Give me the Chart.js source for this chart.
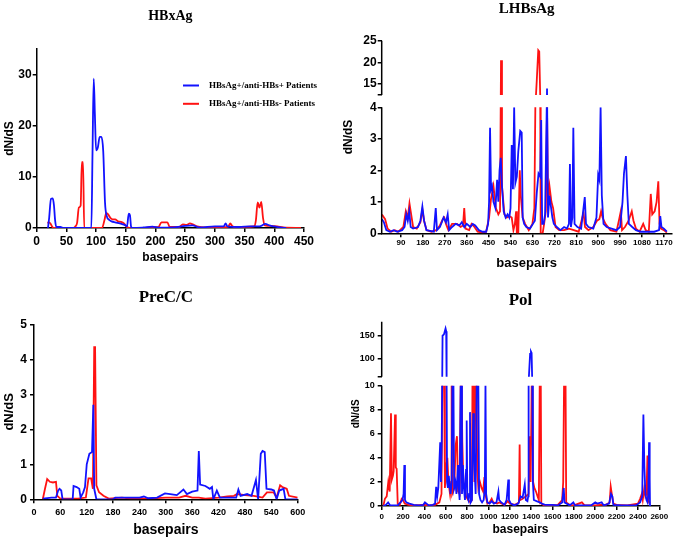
<!DOCTYPE html>
<html>
<head>
<meta charset="utf-8">
<script src="https://cdn.jsdelivr.net/npm/chart.js@4.4.1/dist/chart.umd.min.js"></script>
<style>
  html, body { margin: 0; padding: 0; background: #fff; }
  #wrap { position: relative; width: 675px; height: 540px; overflow: hidden; }
  #wrap canvas { position: absolute; left: 0; top: 0; }
</style>
</head>
<body>
<div id="wrap">
  <canvas id="hbx" width="675" height="540"></canvas>
  <canvas id="lhbs" width="675" height="540"></canvas>
  <canvas id="prec" width="675" height="540"></canvas>
  <canvas id="pol" width="675" height="540"></canvas>
</div>
<script>
// ---- data: [basepair, dN/dS] ----
const seriesLabels = ['HBsAg+/anti-HBs+ Patients', 'HBsAg+/anti-HBs- Patients'];

const hbxTicksX = [0, 50, 100, 150, 200, 250, 300, 350, 400, 450];
const hbxTicksY = [0, 10, 20, 30];
const hbxBlue = [[19,0],[21,2],[24,5.7],[27,5.8],[29,4.5],[31,1.5],[33,0.2],[40,0.2],[45,0],[92,0],[94,15],[96,29.2],[98,22],
  [100,15.2],[103,15.8],[106,17.8],[109,17.8],[112,15],[115,5],[118,2.3],[122,1.6],[126,1.3],[132,1.1],[140,0.9],[148,0.6],
  [152,0.3],[155,2.8],[157,2.5],[159,0.2],[162,0],[180,0.1],[195,0.25],[205,0.05],[230,0.1],[250,0.4],[262,0.5],[275,0.1],
  [300,0.3],[315,0.3],[318,0.9],[321,0.3],[340,0.2],[360,0.3],[375,0.3],[385,0.8],[392,0.5],[400,0.3],[410,0.1],[420,0]];
const hbxRed = [[18,1.0],[21,1.1],[24,0.7],[27,0.1],[30,0],[62,0],[65,0.3],[68,1.0],[71,4.0],[74,4.4],[76,12.9],[78,12.9],[80,0],
  [110,0],[114,1.5],[117,2.9],[120,2.7],[124,2.0],[128,1.7],[132,1.7],[137,1.3],[142,1.2],[147,0.9],[152,0.2],[156,0],[180,0],
  [190,0.15],[205,0.2],[210,1.1],[220,1.1],[224,0.2],[240,0.2],[246,0.7],[252,0.6],[258,0.9],[263,0.7],[270,0.3],[285,0.1],
  [300,0.1],[322,0.2],[326,0.9],[329,0.4],[335,0.1],[350,0.2],[366,0.3],[369,1.5],[372,5.0],[375,4.0],[378,5.1],[381,2.0],
  [384,0.5],[395,0.4],[405,0.3],[415,0.1],[445,0]];

const lhbTicksX = [90, 180, 270, 360, 450, 540, 630, 720, 810, 900, 990, 1080, 1170];
const lhbTicksY = [0, 1, 2, 3, 4, 12.5, 15, 20, 25];
const lhbBreak = [4, 12.5];
const lhbBlue = [[12,0.45],[20,0.35],[30,0.1],[45,0.05],[60,0.1],[75,0.05],[95,0.1],[105,0.2],[112,0.6],[118,0.4],[124,0.7],
  [130,0.2],[140,0.15],[160,0.2],[170,0.4],[178,0.85],[185,0.4],[195,0.1],[225,0.05],[233,0.8],[238,0.1],[250,0.2],[258,0.35],
  [265,0.5],[275,0.35],[282,0.6],[288,0.1],[300,0.2],[315,0.3],[330,0.25],[340,0.35],[350,0.2],[360,0.3],[375,0.2],[385,0.3],
  [395,0.25],[410,0.1],[425,0.05],[440,0.05],[448,0.3],[452,1.0],[456,3.35],[460,1.4],[464,1.5],[470,1.0],[478,0.8],[485,1.7],
  [490,1.0],[495,2.0],[500,2.4],[505,1.5],[512,0.7],[520,0.5],[528,0.6],[535,0.5],[540,0.8],[545,2.8],[550,1.4],[555,4.0],
  [560,1.6],[566,1.8],[572,2.6],[580,3.25],[586,3.2],[590,0.5],[596,0.3],[605,0.2],[620,0.15],[632,0.3],[640,0.4],[648,1.3],
  [655,1.9],[662,1.8],[666,3.6],[670,0.3],[676,0.3],[682,0.6],[690,14],[694,0.5],[700,1.2],[705,0.9],[712,0.5],[718,0.3],
  [730,0.2],[745,0.1],[760,0.2],[772,0.15],[780,0.3],[784,2.2],[788,0.2],[794,0.5],[798,3.35],[803,0.3],[815,0.2],[830,0.15],
  [845,1.15],[850,0.3],[860,0.2],[880,0.15],[893,0.5],[900,1.85],[905,1.7],[910,4.0],[915,1.2],[922,0.3],[935,0.2],[955,0.15],
  [975,0.1],[990,0.2],[1000,1.0],[1006,1.9],[1014,2.45],[1020,1.2],[1026,0.3],[1040,0.2],[1055,0.1],[1075,0.05],[1100,0.05],
  [1130,0.05],[1150,0.1],[1155,0.55],[1160,0.2],[1170,0.15],[1182,0.05]];
const lhbRed = [[12,0.6],[25,0.45],[35,0.15],[50,0.05],[65,0.1],[80,0.05],[100,0.2],[110,0.7],[118,0.5],[125,0.95],[132,0.6],
  [140,0.2],[155,0.15],[170,0.35],[178,0.75],[185,0.4],[195,0.1],[215,0.05],[235,0.1],[250,0.25],[262,0.45],[268,0.5],[275,0.3],
  [285,0.1],[300,0.3],[320,0.3],[335,0.2],[345,0.25],[350,0.8],[355,0.15],[370,0.1],[380,0.3],[392,0.2],[405,0.05],[425,0.02],
  [440,0.05],[452,0.5],[460,1.1],[470,1.5],[480,0.8],[490,0.6],[497,0.7],[501,20.5],[505,1.5],[515,0.6],[525,0.5],[535,0.55],
  [545,0.5],[552,0.1],[558,0.3],[563,0.7],[566,0],[572,0],[578,2.0],[582,1.2],[590,0.5],[600,0.3],[615,0.1],[630,0.3],[638,0.8],
  [642,4.5],[648,16],[654,22.8],[658,22.5],[662,12],[664,0],[672,0],[678,0.3],[685,0.7],[690,4],[694,1.0],[700,1.5],[708,1.0],
  [715,0.8],[725,0.2],[740,0.1],[760,0.1],[780,0.15],[800,0.1],[820,0.05],[835,0.5],[840,0.65],[846,0.2],[860,0.1],[880,0.2],
  [895,0.4],[905,0.45],[912,0.7],[918,0.5],[930,0.3],[950,0.1],[975,0.05],[985,0.4],[993,0.7],[998,0.1],[1010,0.2],[1025,0.4],
  [1038,0.7],[1045,0.4],[1055,0.15],[1070,0.05],[1085,0.3],[1095,0.1],[1108,0.05],[1116,1.25],[1122,0.6],[1132,0.7],[1140,1.0],
  [1147,1.65],[1152,0.3],[1158,0.15],[1170,0.1],[1182,0.02]];

const precTicksX = [0, 60, 120, 180, 240, 300, 360, 420, 480, 540, 600];
const precTicksY = [0, 1, 2, 3, 4, 5];
const precBlue = [[20,0.02],[40,0.05],[50,0.05],[55,0.25],[58,0.3],[62,0.25],[65,0],[88,0],[90,0.38],[97,0.35],[103,0.3],
  [106,0.05],[112,0.2],[116,0.35],[120,1.0],[126,1.3],[132,1.35],[135,2.7],[137,0.3],[142,0],[180,0],[185,0.05],[240,0.05],
  [250,0.08],[260,0.03],[280,0.05],[298,0.17],[310,0.15],[325,0.12],[340,0.28],[348,0.15],[360,0.22],[372,0.25],[375,1.38],
  [378,0.42],[390,0.38],[400,0.3],[405,0.35],[408,0],[416,0.25],[423,0.05],[440,0.05],[460,0.05],[465,0.28],[470,0.1],
  [485,0.15],[495,0.1],[505,0.55],[510,0],[516,1.3],[520,1.38],[525,1.35],[529,0.3],[540,0.28],[546,0.25],[552,0],[558,0.25],
  [568,0.3],[572,0],[600,0]];
const precRed = [[20,0],[25,0.3],[30,0.58],[36,0.5],[43,0.48],[50,0.5],[53,0.1],[60,0.02],[80,0.02],[100,0.02],[118,0.05],
  [124,0.6],[130,0.6],[134,0.3],[137,4.35],[139,4.35],[142,0.4],[148,0.2],[158,0.1],[170,0.02],[200,0.05],[220,0.02],[260,0.02],
  [300,0.05],[330,0.05],[345,0.1],[360,0.05],[375,0.05],[390,0.02],[420,0.05],[440,0.08],[455,0.1],[462,0.15],[480,0.12],
  [500,0.1],[520,0.05],[530,0.2],[545,0.2],[552,0.05],[560,0.4],[565,0.35],[575,0.3],[580,0.1],[600,0.05]];

const polTicksX = [0, 200, 400, 600, 800, 1000, 1200, 1400, 1600, 1800, 2000, 2200, 2400, 2600];
const polTicksY = [0, 2, 4, 6, 8, 10, 59.5, 100, 150];
const polBreak = [10, 59.5];
const polBlue = [[15,0],[40,0.1],[60,0.3],[80,0.05],[150,0.05],[195,0.5],[205,1.0],[212,3.4],[218,0.5],[230,0.3],[260,0.2],
  [300,0.1],[350,0.05],[390,0.1],[405,0.3],[420,0.2],[440,0.05],[480,0.1],[500,0.2],[510,1.6],[520,0.8],[530,1.5],[548,5.3],
  [555,2.0],[562,5.2],[570,150],[583,153],[598,166],[604,160],[608,30],[612,2.0],[620,1.5],[628,2.5],[636,1.8],[645,1.0],
  [655,2.0],[662,30],[672,30],[678,1.5],[690,2.0],[700,1.0],[715,3.4],[722,1.5],[730,0.5],[740,30],[746,30],[752,1.0],
  [760,3.4],[770,1.5],[780,0.5],[790,3.0],[796,7.1],[802,0.8],[812,0.5],[820,1.0],[827,7.8],[833,0.3],[845,0.5],[858,7.7],
  [864,5.1],[870,3.0],[880,1.0],[890,30],[898,30],[905,30],[912,1.0],[925,0.5],[940,0.3],[955,0.5],[966,1.5],[972,30],
  [978,1.0],[990,0.3],[1010,0.2],[1030,0.4],[1050,0.2],[1075,0.3],[1093,1.2],[1100,0.5],[1120,0.3],[1150,0.1],[1170,0.5],
  [1186,2.2],[1192,0.5],[1210,0.2],[1240,0.05],[1280,0.2],[1300,0.8],[1320,0.7],[1340,1.8],[1350,0.5],[1365,0.4],[1372,0.8],
  [1376,30],[1390,110],[1398,115],[1404,112],[1410,30],[1416,2.0],[1425,0.5],[1450,0.4],[1480,0.3],[1500,0.2],[1530,0.1],
  [1600,0.1],[1650,0.05],[1690,0.3],[1705,1.5],[1712,0.3],[1760,0.05],[1795,0.3],[1810,0.05],[1900,0.05],[1960,0.05],
  [2000,0.3],[2020,0.2],[2060,0.3],[2080,0.05],[2130,0.2],[2148,1.0],[2160,0.8],[2170,0.1],[2250,0.05],[2300,0.05],
  [2380,0.05],[2420,0.3],[2440,0.8],[2451,7.6],[2460,3.3],[2470,1.0],[2480,0.5],[2490,0.3],[2497,1.0],[2504,5.3],[2510,2.3],
  [2513,0]];
const polRed = [[15,0],[30,0.6],[47,0.8],[62,2.0],[75,1.2],[87,7.7],[95,2.2],[105,2.5],[112,2.9],[125,7.6],[132,3.2],[140,3.1],
  [150,0.2],[170,0.1],[187,0.6],[200,0.5],[215,0.2],[250,0.1],[300,0.05],[400,0.1],[450,0.05],[500,0.1],[540,0.3],[560,1.0],
  [568,30],[585,30],[592,1.5],[605,3.3],[615,4.0],[625,2.0],[640,1.0],[650,2.0],[655,30],[660,1.0],[680,1.5],[692,5.0],
  [705,5.8],[715,1.2],[730,1.0],[740,30],[748,30],[755,5.3],[765,2.0],[780,1.5],[790,0.8],[810,0.5],[830,0.3],[845,0.5],
  [850,30],[862,30],[868,2.0],[878,30],[888,30],[895,3.0],[905,1.5],[920,2.0],[935,1.5],[950,1.2],[962,2.4],[970,1.0],
  [990,0.2],[1010,0.3],[1030,0.6],[1045,0.3],[1080,0.2],[1100,0.3],[1150,0.1],[1180,0.4],[1200,0.2],[1250,0.1],[1285,0.3],
  [1292,5.1],[1297,0.5],[1320,0.6],[1350,0.8],[1375,1.0],[1388,5.8],[1395,2.0],[1405,30],[1412,30],[1418,2.0],[1430,1.5],
  [1445,1.2],[1460,0.8],[1472,0.5],[1480,30],[1490,30],[1495,0.2],[1520,0.05],[1580,0.05],[1650,0.1],[1690,0.5],[1700,2.0],
  [1708,30],[1722,30],[1728,0.3],[1760,0.1],[1800,0.05],[1875,0.3],[1900,0.05],[2000,0.05],[2050,0.1],[2100,0.1],[2135,0.3],
  [2145,1.6],[2155,1.0],[2170,0.2],[2200,0.1],[2300,0.05],[2400,0.2],[2420,0.6],[2436,1.0],[2445,0.5],[2460,1.5],[2470,0.8],
  [2480,1.0],[2489,4.2],[2495,0.5],[2510,0.2]];

// ---- styling ----
const SANS = '"Liberation Sans", Arial, sans-serif';
const SERIF = '"Liberation Serif", "Times New Roman", serif';
const BLUE = '#1212ff';
const RED = '#ff1212';
Chart.defaults.color = '#000';
Chart.defaults.font.family = SANS;

// linear scale that maps values piecewise (used for the broken y axes)
class BrokenLinear extends Chart.LinearScale {
  getPixelForValue(value) {
    const k = this.knots;
    if (!k) return super.getPixelForValue(value);
    let i = 1;
    while (i < k.length - 1 && value > k[i][0]) i++;
    const [v0, f0] = k[i - 1], [v1, f1] = k[i];
    const f = f0 + (value - v0) / (v1 - v0) * (f1 - f0);
    return this.bottom - f * (this.bottom - this.top);
  }
  getValueForPixel(pixel) {
    const k = this.knots;
    if (!k) return super.getValueForPixel(pixel);
    const f = (this.bottom - pixel) / (this.bottom - this.top);
    let i = 1;
    while (i < k.length - 1 && f > k[i][1]) i++;
    const [v0, f0] = k[i - 1], [v1, f1] = k[i];
    return v0 + (f - f0) / (f1 - f0) * (v1 - v0);
  }
}
BrokenLinear.id = 'brokenLinear';
BrokenLinear.defaults = Chart.LinearScale.defaults;
Chart.register(BrokenLinear);

// clip lines to the two bands of a broken axis, then draw the axis in two pieces
const brokenAxis = {
  id: 'brokenAxis',
  beforeDatasetsDraw(chart, args, o) {
    const y = chart.scales.y, a = chart.chartArea, ctx = chart.ctx;
    const lo = y.getPixelForValue(o.low), hi = y.getPixelForValue(o.high);
    ctx.save();
    ctx.beginPath();
    ctx.rect(a.left, lo, a.right - a.left, a.bottom - lo + 3);
    ctx.rect(a.left, a.top - 3, a.right - a.left, hi - a.top + 3);
    ctx.clip();
  },
  afterDatasetsDraw(chart, args, o) {
    const y = chart.scales.y, a = chart.chartArea, ctx = chart.ctx;
    ctx.restore();
    const lo = y.getPixelForValue(o.low), hi = y.getPixelForValue(o.high);
    ctx.save();
    ctx.strokeStyle = '#000';
    ctx.lineWidth = 1.5;
    ctx.beginPath();
    ctx.moveTo(a.left, a.bottom);
    ctx.lineTo(a.left, lo);
    ctx.moveTo(a.left, hi);
    ctx.lineTo(a.left, a.top);
    ctx.stroke();
    ctx.restore();
  }
};

// legend drawn inside the HBxAg plot
const insideLegend = {
  id: 'insideLegend',
  afterDraw(chart, args, o) {
    const ctx = chart.ctx;
    ctx.save();
    ctx.font = 'bold ' + o.size + 'px ' + SERIF;
    ctx.textBaseline = 'middle';
    chart.data.datasets.forEach((ds, i) => {
      const y = o.y + i * o.step;
      ctx.strokeStyle = ds.borderColor;
      ctx.lineWidth = 2;
      ctx.beginPath();
      ctx.moveTo(o.x, y);
      ctx.lineTo(o.x + o.len, y);
      ctx.stroke();
      ctx.fillStyle = '#000';
      ctx.fillText(ds.label, o.textX, y);
    });
    ctx.restore();
  }
};

const toXY = pts => pts.map(p => ({ x: p[0], y: p[1] }));

function drawPanel(canvasId, p) {
  const a = p.area;
  const padLeft = p.yTitleX - 0.6 * p.yTitleSize;
  const yWidth = a.left - padLeft;
  const xBottom = p.xTitleY + 0.6 * p.xTitleSize;
  const xHeight = xBottom - a.bottom;
  const padTop = p.titleY - 0.6 * p.titleSize;
  const titleGap = a.top - padTop - 1.2 * p.titleSize;
  const tickGrid = { drawOnChartArea: false, drawTicks: true, tickLength: 4, color: '#000', lineWidth: 1.5 };

  const ds = (label, pts, color, order) => ({
    label, data: toXY(pts), borderColor: color, backgroundColor: color,
    borderWidth: 1.8, pointRadius: 0, fill: false, order,
    tension: p.smooth ? 0.4 : 0, cubicInterpolationMode: p.smooth ? 'monotone' : 'default'
  });

  return new Chart(document.getElementById(canvasId), {
    type: 'line',
    data: {
      datasets: [
        ds(seriesLabels[0], p.blue, BLUE, 0),
        ds(seriesLabels[1], p.red, RED, 1)
      ]
    },
    options: {
      responsive: false,
      animation: false,
      events: [],
      layout: { padding: { left: padLeft, right: 675 - a.right, top: padTop, bottom: 540 - xBottom } },
      plugins: {
        legend: { display: false },
        tooltip: { enabled: false },
        title: {
          display: true, text: p.title, fullSize: false, color: '#000',
          font: { family: SERIF, size: p.titleSize, weight: 'bold' },
          padding: { top: 0, bottom: titleGap }
        },
        brokenAxis: p.brk ? { low: p.brk[0], high: p.brk[1] } : {},
        insideLegend: p.legend || {}
      },
      scales: {
        x: {
          type: 'linear', min: p.xMin, max: p.xMax,
          afterBuildTicks: s => { s.ticks = p.ticksX.map(v => ({ value: v })); },
          afterFit: s => { s.height = xHeight; },
          grid: tickGrid,
          border: { display: true, color: '#000', width: 1.5 },
          ticks: { autoSkip: false, maxRotation: 0, minRotation: 0, padding: p.xTickPad,
                   font: { size: p.xTickSize, weight: 'bold' }, callback: v => String(v) },
          title: { display: true, text: 'basepairs', padding: { top: 0, bottom: 0 },
                   font: { size: p.xTitleSize, weight: 'bold' } }
        },
        y: {
          type: p.knots ? 'brokenLinear' : 'linear', min: 0, max: p.yMax,
          afterDataLimits: s => { s.knots = p.knots || null; },
          afterBuildTicks: s => { s.ticks = p.ticksY.map(v => ({ value: v })); },
          afterFit: s => { s.width = yWidth; },
          grid: tickGrid,
          border: { display: !p.knots, color: '#000', width: 1.5 },
          ticks: { autoSkip: false, padding: p.yTickPad, font: { size: p.yTickSize, weight: 'bold' },
                   callback: v => (p.brk && v === p.brk[1]) ? '' : String(v) },
          title: { display: true, text: 'dN/dS', padding: { top: 0, bottom: 0 },
                   font: { size: p.yTitleSize, weight: 'bold' } }
        }
      }
    },
    plugins: [p.brk ? brokenAxis : null, p.legend ? insideLegend : null].filter(Boolean)
  });
}

drawPanel('hbx', {
  title: 'HBxAg', blue: hbxBlue, red: hbxRed, smooth: true,
  area: { left: 36.7, top: 49, right: 304, bottom: 228 },
  xMin: 0, xMax: 450, yMax: 35, ticksX: hbxTicksX, ticksY: hbxTicksY,
  titleY: 16, titleSize: 14, yTitleX: 10, yTitleSize: 12, xTitleY: 258, xTitleSize: 12,
  yTickSize: 12, yTickPad: 1, xTickSize: 12, xTickPad: 2.5,
  legend: { x: 183, y: 85.5, step: 18.3, len: 16, textX: 209, size: 9 }
});

drawPanel('lhbs', {
  title: 'LHBsAg', blue: lhbBlue, red: lhbRed,
  area: { left: 381.7, top: 40.7, right: 671.7, bottom: 233.3 },
  xMin: 11, xMax: 1202, yMax: 25, ticksX: lhbTicksX, ticksY: lhbTicksY,
  brk: lhbBreak, knots: [[0, 0], [4, 0.654], [12.5, 0.718], [25, 1]],
  titleY: 9.5, titleSize: 15, yTitleX: 349, yTitleSize: 12, xTitleY: 263, xTitleSize: 13,
  yTickSize: 12, yTickPad: 1, xTickSize: 8, xTickPad: 1
});

drawPanel('prec', {
  title: 'PreC/C', blue: precBlue, red: precRed,
  area: { left: 34, top: 324.3, right: 297.7, bottom: 499.3 },
  xMin: 0, xMax: 600, yMax: 5, ticksX: precTicksX, ticksY: precTicksY,
  titleY: 297.5, titleSize: 17, yTitleX: 9, yTitleSize: 13, xTitleY: 530, xTitleSize: 14,
  yTickSize: 12, yTickPad: 3, xTickSize: 9, xTickPad: 4
});

drawPanel('pol', {
  title: 'Pol', blue: polBlue, red: polRed,
  area: { left: 381.7, top: 321.7, right: 659.3, bottom: 506 },
  xMin: 0, xMax: 2600, yMax: 181, ticksX: polTicksX, ticksY: polTicksY,
  brk: polBreak, knots: [[0, 0], [10, 0.653], [59.5, 0.7016], [181, 1]],
  titleY: 301, titleSize: 17, yTitleX: 356, yTitleSize: 10, xTitleY: 530, xTitleSize: 12,
  yTickSize: 9, yTickPad: 3, xTickSize: 8, xTickPad: 2
});
</script>
</body>
</html>
